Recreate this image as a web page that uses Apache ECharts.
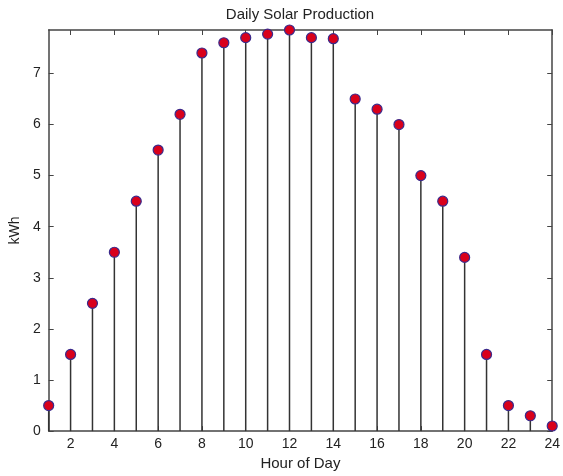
<!DOCTYPE html>
<html>
<head>
<meta charset="utf-8">
<script src="https://cdn.jsdelivr.net/npm/echarts@6/dist/echarts.min.js"></script>
<style>html,body{margin:0;padding:0;background:#fff;}#c{width:563px;height:476px;}</style>
</head>
<body>
<div id="c"></div>
<script>
var hours = [1,2,3,4,5,6,7,8,9,10,11,12,13,14,15,16,17,18,19,20,21,22,23,24];
var kwh = [0.5,1.5,2.5,3.5,4.5,5.5,6.2,7.4,7.6,7.7,7.77,7.85,7.7,7.68,6.5,6.3,6.0,5.0,4.5,3.4,1.5,0.5,0.3,0.1];
var xTicks = [2,4,6,8,10,12,14,16,18,20,22,24];
var yTicks = [0,1,2,3,4,5,6,7];
var title = 'Daily Solar Production';
var xName = 'Hour of Day';
var yName = 'kWh';

var pts = hours.map(function(h,i){return [h,kwh[i]];});
var font = 'Liberation Sans, Arial, sans-serif';
var frame = {show:true, onZero:false, lineStyle:{color:'#444', width:1.5}};
var chart = echarts.init(document.getElementById('c'));
chart.setOption({
  animation:false,
  backgroundColor:'#fff',
  title:{text:title, left:295, top:2, textAlign:'center',
    textStyle:{fontFamily:font, fontSize:15, fontWeight:'normal', color:'#222'}},
  grid:{left:45.5, right:8.5, top:30, bottom:44, containLabel:false},
  xAxis:[{type:'value', min:1, max:24, position:'bottom',
      name:xName, nameLocation:'middle', nameGap:24,
      nameTextStyle:{fontFamily:font, fontSize:15, color:'#222'},
      axisLine:frame, splitLine:{show:false},
      axisTick:{show:true, inside:true, length:5, customValues:xTicks, lineStyle:{color:'#444'}},
      axisLabel:{customValues:xTicks, fontFamily:font, fontSize:14, color:'#222', margin:6}},
    {type:'value', min:1, max:24, position:'top',
      axisLine:frame, splitLine:{show:false},
      axisTick:{show:true, inside:true, length:5, customValues:xTicks, lineStyle:{color:'#444'}},
      axisLabel:{show:false, customValues:xTicks}}],
  yAxis:[{type:'value', min:0, max:7.85, position:'left',
      name:yName, nameLocation:'middle', nameGap:25, nameRotate:90,
      nameTextStyle:{fontFamily:font, fontSize:14, color:'#222'},
      axisLine:frame, splitLine:{show:false},
      axisTick:{show:true, inside:true, length:5, customValues:yTicks, lineStyle:{color:'#444'}},
      axisLabel:{customValues:yTicks, fontFamily:font, fontSize:14, color:'#222', margin:8}},
    {type:'value', min:0, max:7.85, position:'right',
      axisLine:frame, splitLine:{show:false},
      axisTick:{show:true, inside:true, length:5, customValues:yTicks, lineStyle:{color:'#444'}},
      axisLabel:{show:false, customValues:yTicks}}],
  series:[
    {type:'custom', xAxisIndex:0, yAxisIndex:0, data:pts, z:2,
      renderItem:function(params, api){
        var top = api.coord([api.value(0), api.value(1)]);
        var base = api.coord([api.value(0), 0]);
        return {type:'line', shape:{x1:top[0], y1:top[1], x2:base[0], y2:base[1]},
          style:{stroke:'#333', lineWidth:1.5}};
      }},
    {type:'scatter', xAxisIndex:0, yAxisIndex:0, data:pts, symbol:'circle', symbolSize:10, z:3,
      itemStyle:{color:'#d9001b', borderColor:'#3a2a8c', borderWidth:1.2, opacity:1}}
  ]
});
</script>
</body>
</html>
